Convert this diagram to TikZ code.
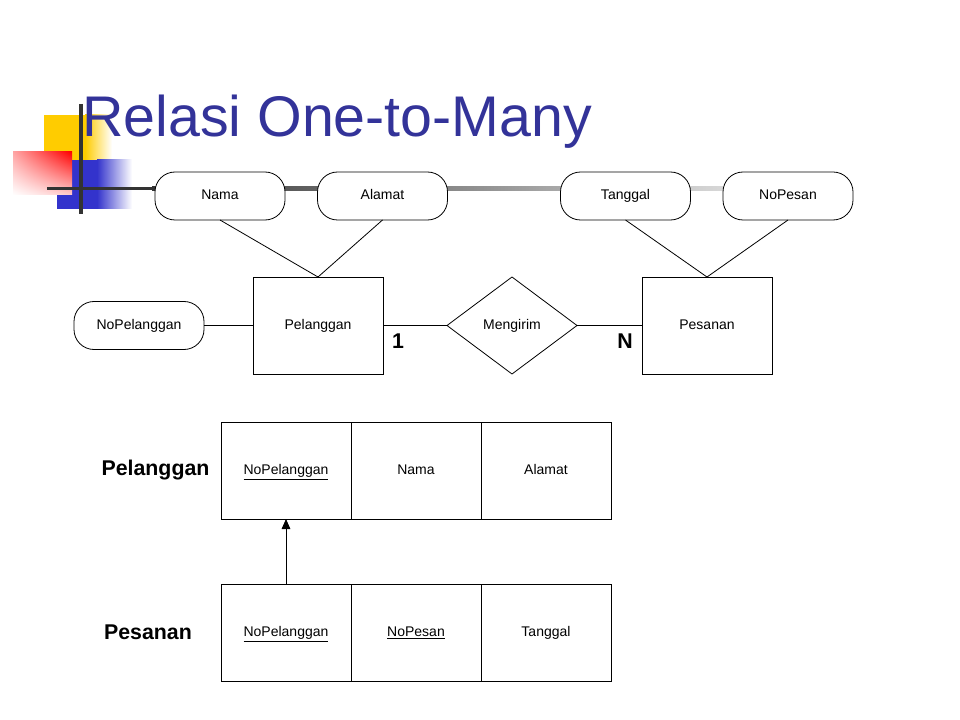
\documentclass[tikz,border=0pt]{standalone}
\usepackage{fontspec}
\setmainfont{Liberation Sans}
\usetikzlibrary{arrows.meta, positioning, shapes.geometric, shadings, calc}
\usepackage{xcolor}
\definecolor{TitleBlue}{HTML}{333399}
\definecolor{DecoYellow}{HTML}{FFCC00}
\definecolor{DecoBlue}{HTML}{3333CC}
\definecolor{DecoRed}{HTML}{FF0000}
\definecolor{DecoLine}{HTML}{333333}
\tikzset{
  attrib/.style={
    rectangle, rounded corners=15pt, draw=black, line width=0.6pt,
    minimum width=97.5pt, minimum height=36pt, outer sep=0pt,
    fill=white, inner sep=0pt, text height=7.5pt, text depth=2pt,
    font=\fontsize{10.5}{12}\selectfont
  },
  entity/.style={
    rectangle, draw=black, line width=0.6pt,
    minimum width=97.5pt, minimum height=72.75pt, outer sep=0pt,
    fill=white, inner sep=0pt, text height=7.5pt, text depth=2pt,
    font=\fontsize{10.5}{12}\selectfont
  },
  relation/.style={
    diamond, draw=black, line width=0.6pt,
    minimum width=97.5pt, minimum height=72.75pt, outer sep=0pt,
    fill=white, inner sep=0pt, text height=7.5pt, text depth=2pt,
    font=\fontsize{10.5}{12}\selectfont
  },
  cell/.style={
    rectangle, draw=black, line width=0.6pt,
    minimum width=97.5pt, minimum height=72.75pt, outer sep=0pt,
    inner sep=0pt, text height=7.5pt, text depth=2pt,
    font=\fontsize{10.5}{12}\selectfont
  },
  tablename/.style={font=\fontsize{16}{19}\selectfont\bfseries, inner sep=0pt},
  card/.style={font=\fontsize{16}{19}\selectfont\bfseries, inner sep=0pt},
  link/.style={line width=0.6pt},
  fk/.style={
    -{Triangle[length=7.5pt, width=6.5pt]},
    line width=0.6pt
  }
}

\begin{document}
\begin{tikzpicture}[x=0.75pt, y=-0.75pt]

\useasboundingbox (0,0) rectangle (960,720);

% ── Slide decoration ──────────────────────────────────────────────────────────

\fill[DecoYellow] (44,115) rectangle (85,160);
\shade[left color=DecoYellow, right color=white] (85,115) rectangle (112,160);
\fill[DecoBlue] (57,160) rectangle (97,209);
\shade[left color=DecoBlue, right color=white] (97,160) rectangle (132,209);
\shade[upper left=DecoRed!35, upper right=DecoRed,
       lower left=white, lower right=DecoRed!20] (13,152) rectangle (72,195);

\fill[DecoLine] (47,187) rectangle (152,190.5);
\shade[left color=DecoLine, right color=white] (152,187) rectangle (860,190.5);
\draw[DecoLine, line width=2.5pt] (81,104) -- (81,214);

% ── Title ─────────────────────────────────────────────────────────────────────

\node[anchor=base west, inner sep=0pt, text=TitleBlue,
      font=\fontsize{43}{50}\selectfont] (title) at (82,137) {Relasi One-to-Many};

% ── ER diagram ────────────────────────────────────────────────────────────────

\node[entity] (pel) at (318,325.5) {Pelanggan};
\node[relation, right=48pt of pel] (kirim) {Mengirim};
\node[entity, right=48.75pt of kirim] (pes) {Pesanan};
\node[attrib, left=36.75pt of pel] (nopel) {NoPelanggan};

\node[attrib] (nama)    at (220,196)   {Nama};
\node[attrib] (alamat)  at (382.5,196) {Alamat};
\node[attrib] (tanggal) at (625.5,196) {Tanggal};
\node[attrib] (nopesan) at (788,196)   {NoPesan};

\draw[link] (nama.south) -- (pel.north);
\draw[link] (alamat.south) -- (pel.north);
\draw[link] (tanggal.south) -- (pes.north);
\draw[link] (nopesan.south) -- (pes.north);
\draw[link] (nopel.east) -- (pel.west);
\draw[link] (pel.east) -- (kirim.west);
\draw[link] (kirim.east) -- (pes.west);

% cardinalities
\node[card] (one)  at (398,341) {1};
\node[card] (many) at (625,341) {N};

% ── Relational tables ─────────────────────────────────────────────────────────

\node[cell] (pl1) at (286,470.5) {\underline{NoPelanggan}};
\node[cell, right=0pt of pl1] (pl2) {Nama};
\node[cell, right=0pt of pl2] (pl3) {Alamat};

\node[cell, below=48.75pt of pl1] (pe1) {\underline{NoPelanggan}};
\node[cell, right=0pt of pe1] (pe2) {\underline{NoPesan}};
\node[cell, right=0pt of pe2] (pe3) {Tanggal};

\node[tablename] (tpel) at (155.5,470) {Pelanggan};
\node[tablename] (tpes) at (148,632) {Pesanan};

% foreign key
\draw[fk] (pe1.north) -- (pl1.south);

\end{tikzpicture}
\end{document}
